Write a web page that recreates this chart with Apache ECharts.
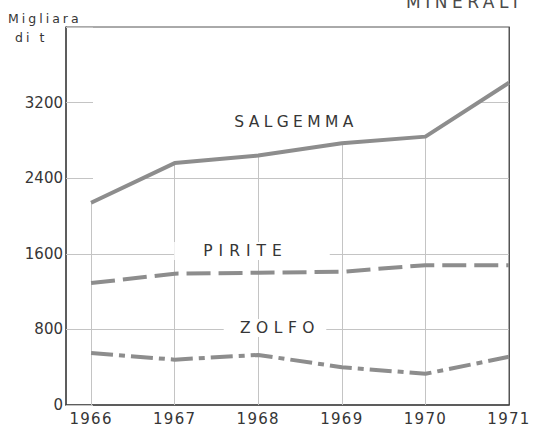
<!DOCTYPE html>
<html>
<head>
<meta charset="utf-8">
<script src="https://cdn.jsdelivr.net/npm/echarts@6/dist/echarts.min.js"></script>
<style>
  html, body { margin: 0; padding: 0; background: #ffffff; }
  #chart { width: 533px; height: 431px; }
</style>
</head>
<body>
<div id="chart"></div>
<script>
// Production, thousands of tonnes
const years = [1966, 1967, 1968, 1969, 1970, 1971];
const salgemma = [2140, 2560, 2640, 2770, 2840, 3410];
const pirite = [1290, 1390, 1400, 1410, 1480, 1480];
const zolfo = [550, 480, 530, 400, 330, 510];

const yMax = 4000;
const yStep = 800;
const fullGridValues = [800, 1600];   // rules drawn across the whole plot
const upperGridValues = [2400, 3200]; // rules drawn only beneath the salgemma curve
const seriesNames = ['SALGEMMA', 'PIRITE', 'ZOLFO'];
const unitLines = ['Migliara', 'di t'];
const headerText = 'MINERALI NON METALLIFERI';

const FONT = '"DejaVu Sans", sans-serif';
const INK = '#363636';
const LINE = '#8d8d8d';
const GRID = '#c4c4c4';

// letter spacing (px) applied to the drawn text after render
function spacingFor(txt) {
  if (years.map(String).includes(txt)) return 1.3;
  if (/^\d+$/.test(txt)) return 0;
  if (txt === seriesNames[0]) return 4.4;
  if (txt === seriesNames[1]) return 6;
  if (txt === seriesNames[2]) return 5.5;
  if (unitLines.includes(txt)) return 3;
  if (txt === headerText) return 4.5;
  return 0;
}

const pairs = vals => years.map((y, i) => [y, vals[i]]);

// year at which the salgemma curve first rises through a given level
function crossingYear(level) {
  for (let i = 1; i < years.length; i++) {
    const a = salgemma[i - 1], b = salgemma[i];
    if (a <= level && b >= level) {
      return years[i - 1] + (level - a) / (b - a) * (years[i] - years[i - 1]);
    }
  }
  return years[0];
}

// vertical rules rise from the x axis up to the salgemma curve
const verticalRules = years.slice(0, -1).map((x, i) => [
  { coord: [x, 0] }, { coord: [x, salgemma[i]] }
]);
const fullRules = fullGridValues.map(v => ({ yAxis: v }));
const upperRules = upperGridValues.map(v => [
  { coord: [crossingYear(v), v] }, { coord: [years[years.length - 1], v] }
]);

const chart = echarts.init(document.getElementById('chart'), null, { renderer: 'svg' });

chart.setOption({
  animation: false,
  backgroundColor: '#ffffff',
  grid: {
    left: 66, right: 24, top: 27, bottom: 26,
    show: true, borderColor: '#555', borderWidth: 1, backgroundColor: 'transparent'
  },
  xAxis: {
    type: 'value', min: 1965.7, max: 1971,
    axisLine: { show: true, onZero: false, lineStyle: { color: '#444', width: 1.5 } },
    axisTick: { show: false },
    splitLine: { show: false },
    axisLabel: {
      customValues: years, margin: 6,
      fontFamily: FONT, fontSize: 15, color: INK,
      formatter: v => String(v)
    }
  },
  yAxis: [
    {
      type: 'value', min: 0, max: yMax, interval: yStep, position: 'left',
      splitLine: { show: false },
      axisTick: { show: true, inside: true, length: 27, lineStyle: { color: GRID, width: 1 } },
      axisLine: { show: true, lineStyle: { color: '#444', width: 1.5 } },
      axisLabel: {
        margin: 3, fontFamily: FONT, fontSize: 15, color: INK,
        formatter: v => (v >= yMax ? '' : String(v))
      }
    },
    {
      type: 'value', min: 0, max: yMax, interval: yStep, position: 'right',
      splitLine: { show: false },
      axisTick: { show: false },
      axisLine: { show: true, lineStyle: { color: '#555', width: 1 } },
      axisLabel: { show: false }
    }
  ],
  series: [
    {
      name: seriesNames[0], type: 'line', data: pairs(salgemma),
      symbol: 'none', silent: true, z: 3,
      lineStyle: { color: LINE, width: 4, cap: 'butt', join: 'round' },
      markLine: {
        silent: true, symbol: 'none', z: 1,
        label: { show: false },
        lineStyle: { color: GRID, width: 1, type: 'solid' },
        data: verticalRules.concat(fullRules, upperRules)
      }
    },
    {
      name: seriesNames[1], type: 'line', data: pairs(pirite),
      symbol: 'none', silent: true, z: 3,
      lineStyle: { color: LINE, width: 4, type: [24, 8], cap: 'butt' }
    },
    {
      name: seriesNames[2], type: 'line', data: pairs(zolfo),
      symbol: 'none', silent: true, z: 3,
      lineStyle: { color: LINE, width: 4, type: [22, 6, 6, 6], cap: 'butt' }
    }
  ],
  graphic: [
    {
      type: 'text', left: 406, top: -7, z: 100,
      style: { text: headerText, fontFamily: FONT, fontSize: 17, fill: '#4a4a4a' }
    },
    {
      type: 'text', x: 8, y: 18, z: 100,
      style: { text: unitLines[0], fontFamily: FONT, fontSize: 12.5, fill: INK, verticalAlign: 'middle' }
    },
    {
      type: 'text', x: 15, y: 37, z: 100,
      style: { text: unitLines[1], fontFamily: FONT, fontSize: 12.5, fill: INK, verticalAlign: 'middle' }
    },
    {
      type: 'text', x: 296, y: 122, z: 100,
      style: {
        text: seriesNames[0], fontFamily: FONT, fontSize: 15.5, fill: INK,
        align: 'center', verticalAlign: 'middle'
      }
    },
    {
      type: 'text', x: 252, y: 251, z: 100,
      style: {
        text: seriesNames[1], fontFamily: FONT, fontSize: 15.5, fill: INK,
        align: 'center', verticalAlign: 'middle',
        backgroundColor: '#ffffff', padding: [1, 60, 1, 47]
      }
    },
    {
      type: 'text', x: 275, y: 328, z: 100,
      style: {
        text: seriesNames[2], fontFamily: FONT, fontSize: 15.5, fill: INK,
        align: 'center', verticalAlign: 'middle',
        backgroundColor: '#ffffff', padding: [1, 20, 1, 30]
      }
    }
  ]
});

function applySpacing() {
  document.querySelectorAll('#chart svg text').forEach(t => {
    const s = spacingFor((t.textContent || '').trim());
    t.style.letterSpacing = s ? s + 'px' : '';
  });
}
chart.on('finished', applySpacing);
applySpacing();
setTimeout(applySpacing, 50);
</script>
</body>
</html>
